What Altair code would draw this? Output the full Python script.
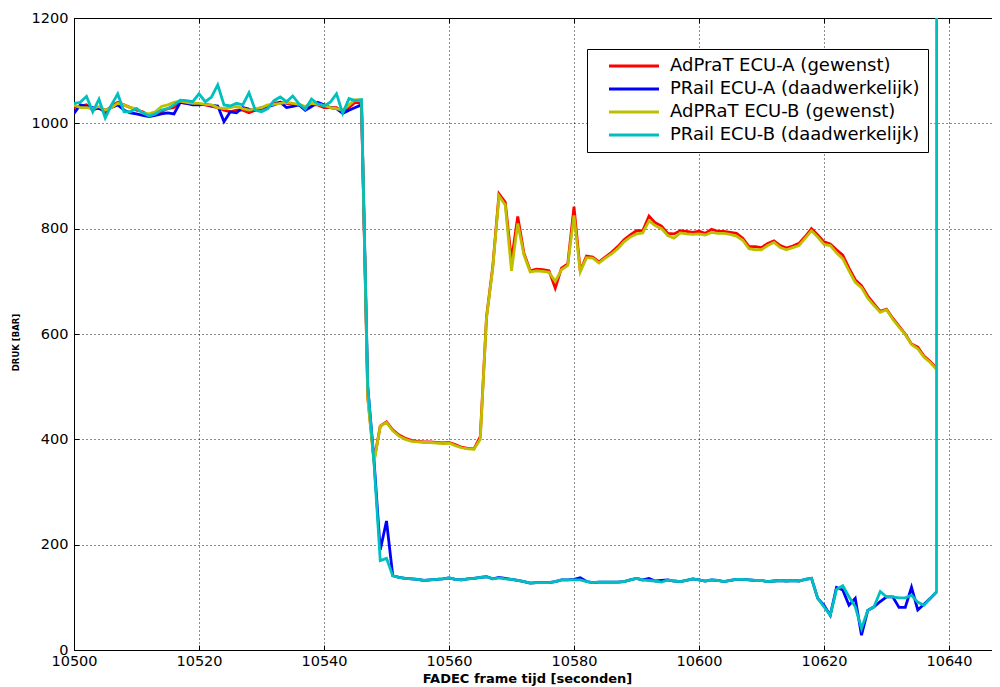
import altair as alt
import pandas as pd

TIME = list(range(10500, 10639))
CYAN_TIME = TIME + [10639]

SERIES = ["AdPraT ECU-A (gewenst)", "PRail ECU-A (daadwerkelijk)",
          "AdPRaT ECU-B (gewenst)", "PRail ECU-B (daadwerkelijk)"]
COLORS = ["#ff0000", "#0000ff", "#bfbf00", "#00bfbf"]

RED = [1030, 1032, 1035, 1025, 1030, 1020, 1033, 1040, 1035, 1030,
       1025, 1022, 1015, 1018, 1022, 1028, 1030, 1040, 1038, 1038,
       1036, 1035, 1032, 1030, 1025, 1022, 1025, 1025, 1020, 1025,
       1028, 1032, 1038, 1040, 1038, 1036, 1035, 1030, 1035, 1035,
       1030, 1030, 1030, 1022, 1030, 1040, 1038,
       480, 360, 425, 433, 418, 408, 402, 398, 396, 395,
       395, 394, 393, 394, 390, 385, 383, 382, 405, 632,
       728, 866, 850, 740, 823, 753, 720, 723, 722, 720,
       687, 725, 733, 842, 720, 748, 746, 737, 746, 755,
       766, 779, 788, 796, 796, 824, 811, 805, 791, 790,
       796, 795, 793, 795, 791, 799, 795, 795, 793, 791,
       782, 766, 766, 764, 772, 777, 768, 763, 767, 772,
       785, 800, 788, 775, 771, 760, 750, 725, 703, 692,
       672, 657, 643, 647, 630, 615, 600, 581, 575, 558,
       548, 535]

BLUE = [1019, 1035, 1032, 1030, 1028, 1025, 1030, 1035, 1025, 1020,
        1018, 1015, 1013, 1015, 1018, 1020, 1018, 1040, 1038, 1035,
        1035, 1036, 1034, 1033, 1003, 1022, 1020, 1030, 1027, 1025,
        1030, 1032, 1035, 1040, 1030, 1032, 1035, 1025, 1032, 1040,
        1035, 1030, 1028, 1019, 1025, 1030, 1035,
        500, 360, 190, 245, 141, 138, 136, 135, 134, 132,
        133, 134, 135, 137, 134, 133, 135, 136, 138, 139,
        135, 138, 136, 134, 132, 130, 127, 128, 128, 128,
        130, 133, 133, 134, 137, 130, 128, 129, 129, 129,
        129, 130, 133, 136, 133, 136, 131, 132, 133, 131,
        130, 132, 135, 133, 131, 133, 132, 130, 132, 134,
        134, 133, 132, 132, 130, 131, 132, 131, 132, 131,
        134, 136, 98, 85, 66, 119, 114, 85, 98, 28,
        75, 82, 92, 101, 101, 81, 81, 119, 76, 87,
        98, 110]

YELLOW = [1035, 1030, 1030, 1028, 1032, 1025, 1030, 1038, 1035, 1030,
          1028, 1020, 1018, 1022, 1032, 1035, 1040, 1042, 1040, 1038,
          1038, 1036, 1035, 1030, 1028, 1030, 1032, 1028, 1025, 1028,
          1030, 1035, 1036, 1038, 1040, 1038, 1036, 1032, 1038, 1036,
          1034, 1030, 1028, 1025, 1035, 1045, 1044,
          478, 356, 425, 432, 416, 406, 400, 396, 395, 394,
          394, 393, 392, 393, 388, 384, 382, 381, 400, 630,
          725, 862, 845, 720, 810, 750, 718, 720, 719, 717,
          700, 722, 730, 825, 718, 745, 744, 735, 744, 752,
          762, 775, 784, 790, 792, 815, 806, 800, 787, 782,
          792, 790, 789, 790, 788, 793, 791, 791, 789, 786,
          778, 762, 760, 760, 768, 774, 764, 760, 764, 768,
          782, 796, 784, 770, 768, 754, 743, 720, 698, 688,
          668, 654, 641, 646, 628, 613, 599, 580, 572, 556,
          546, 533]

CYAN = [1038, 1040, 1051, 1022, 1046, 1010, 1035, 1056, 1022, 1022,
        1028, 1020, 1014, 1018, 1025, 1028, 1035, 1044, 1043, 1041,
        1056, 1041, 1050, 1073, 1035, 1033, 1038, 1035, 1058, 1025,
        1022, 1028, 1043, 1050, 1041, 1052, 1037, 1027, 1046, 1037,
        1033, 1040, 1056, 1019, 1047, 1043, 1045,
        500, 356, 170, 174, 141, 138, 136, 135, 134, 132,
        133, 134, 135, 137, 134, 133, 135, 136, 138, 139,
        135, 137, 135, 134, 132, 130, 127, 128, 128, 128,
        130, 133, 133, 133, 133, 130, 128, 129, 129, 129,
        129, 130, 133, 136, 133, 132, 131, 129, 133, 131,
        130, 132, 135, 133, 131, 133, 132, 130, 132, 134,
        134, 133, 132, 132, 130, 131, 132, 131, 132, 131,
        134, 136, 98, 82, 66, 115, 122, 101, 82, 41,
        75, 82, 111, 101, 101, 99, 99, 104, 91, 85,
        98, 110, 65535]

X_TICKS = list(range(10500, 10641, 20))
Y_TICKS = list(range(0, 1201, 200))
X_DOMAIN = [10500, 10646.88]
Y_DOMAIN = [0, 1200]

rows = []
for k, (name, times, vals) in enumerate([(SERIES[0], TIME, RED), (SERIES[1], TIME, BLUE),
                                         (SERIES[2], TIME, YELLOW), (SERIES[3], CYAN_TIME, CYAN)]):
    for tt, v in zip(times, vals):
        rows.append({"t": tt, "p": v, "s": name, "k": k})
df = pd.DataFrame(rows)

FONT = "DejaVu Sans"
INWARD = alt.ExprRef(expr="-5")

xscale = alt.Scale(domain=X_DOMAIN, nice=False, zero=False)
yscale = alt.Scale(domain=Y_DOMAIN, nice=False)
cscale = alt.Scale(domain=SERIES, range=COLORS)

legend = alt.Legend(
    title=None, orient="none", legendX=513, legendY=31,
    symbolType="M-5,0H5", symbolSize=100, symbolStrokeWidth=3,
    symbolOffset=30, labelOffset=27, labelFontSize=18, labelFont=FONT,
    labelColor="black", padding=8, strokeColor="black", fillColor="white",
    rowPadding=5, cornerRadius=0, labelLimit=400,
)

y_left = alt.Y("p:Q", scale=yscale, axis=alt.Axis(
    orient="left", values=Y_TICKS, format="d", grid=True,
    gridColor="black", gridDash=[1, 3], gridWidth=1, gridOpacity=0.9,
    domainColor="black", domainWidth=1, tickColor="black", tickSize=INWARD,
    labelPadding=11, labelFontSize=14.5, labelFont=FONT, labelColor="black",
    labelFlush=False, title="DRUK [BAR]", titleFont=FONT, titleFontSize=8.5,
    titleFontWeight="bold", titleColor="black", titleX=-54, titleY=324,
    titleAngle=270, titleAlign="center", titleBaseline="bottom"))

lines = (
    alt.Chart(df)
    .mark_line(strokeWidth=2.8, clip=True)
    .encode(
        x=alt.X("t:Q", scale=xscale, axis=alt.Axis(
            orient="bottom", values=X_TICKS, format="d", grid=True,
            gridColor="black", gridDash=[1, 3], gridWidth=1, gridOpacity=0.9,
            domainColor="black", domainWidth=1, tickColor="black", tickSize=INWARD,
            labelPadding=9, labelFontSize=14.5, labelFont=FONT, labelColor="black",
            labelFlush=False, title="FADEC frame tijd [seconden]", titleFont=FONT,
            titleFontSize=13, titleFontWeight="bold", titleColor="black",
            titleX=453, titleY=35, titleBaseline="bottom")),
        y=y_left,
        color=alt.Color("s:N", scale=cscale, legend=legend, sort=SERIES),
        detail="k:O",
    )
)

top_axis = (
    alt.Chart(df).transform_filter(alt.datum.k == 0)
    .mark_line(opacity=0, clip=True)
    .encode(
        x=alt.X("t:Q", scale=xscale, axis=alt.Axis(
            orient="top", values=X_TICKS, labels=False, grid=False,
            domainColor="black", domainWidth=1, tickColor="black",
            tickSize=INWARD, title=None)),
        y=y_left,
    )
)

chart = alt.layer(lines, top_axis).properties(
    width=918, height=632,
    autosize=alt.AutoSizeParams(type="none"),
    padding={"left": 66, "top": 10, "right": 0, "bottom": 37},
    background="white",
).configure_view(stroke=None)

chart.save("out.html", embed_options={"renderer": "svg", "actions": False})
